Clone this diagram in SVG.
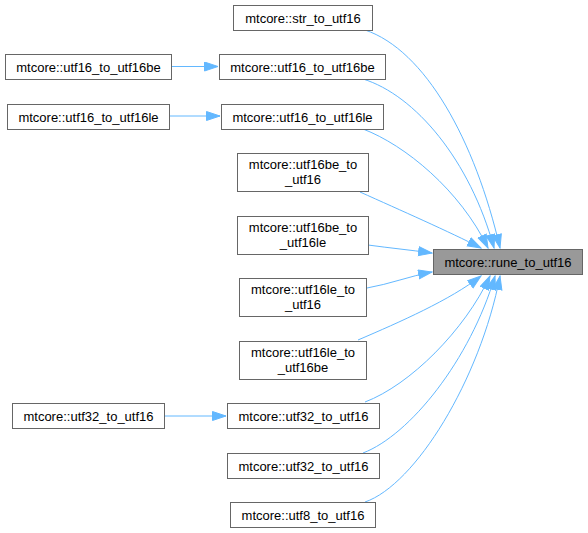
<svg xmlns="http://www.w3.org/2000/svg" width="588" height="533" viewBox="0 0 588 533">
<defs>
<style>
.n rect{fill:#ffffff;stroke:#666666;stroke-width:1}
.n.t rect{fill:#999999}
.n text{font-family:"Liberation Sans",Arial,sans-serif;font-size:13px;fill:#000000;text-anchor:middle}
.e path{fill:none;stroke:#63b8ff;stroke-width:1;marker-end:url(#ah)}
</style>
<marker id="ah" markerUnits="userSpaceOnUse" markerWidth="15" markerHeight="11" refX="14" refY="5" orient="auto" viewBox="0 0 15 11">
<path d="M0.5,0.5 L14,5 L0.5,9.5 z" fill="#63b8ff" stroke="#63b8ff" stroke-width="1"/>
</marker>
</defs>
<rect width="588" height="533" fill="#ffffff"/>
<g id="edges" class="e">
<path d="M365,30 C425,50 475,140 500,248"/>
<path d="M363,79 C415,95 470,160 494,248"/>
<path d="M363,129 C405,145 460,190 488,248"/>
<path d="M360,192 C400,210 450,232 481,248"/>
<path d="M368,245 C390,248 410,250 432,253"/>
<path d="M367,288 C390,284 410,276 432,272"/>
<path d="M358,340 C400,322 450,300 481,276"/>
<path d="M365,402 C410,385 465,330 490,276"/>
<path d="M363,453 C410,435 470,360 495,276"/>
<path d="M365,502 C415,485 480,380 500,276"/>
<path d="M172,66.5 L218,66.5"/>
<path d="M170,116 L220,116"/>
<path d="M165,416 L226,416"/>
</g>
<g id="rune_to_utf16" class="n t"><rect x="433.5" y="249.5" width="149" height="25"/><text x="508" y="266.5">mtcore::rune_to_utf16</text></g>
<g id="str_to_utf16" class="n"><rect x="233.5" y="5.5" width="139" height="25"/><text x="303" y="22.5">mtcore::str_to_utf16</text></g>
<g id="utf16_to_utf16be" class="n"><rect x="219.5" y="54.5" width="166" height="25"/><text x="302.5" y="71.5">mtcore::utf16_to_utf16be</text></g>
<g id="utf16_to_utf16le" class="n"><rect x="221.5" y="104.5" width="162" height="25"/><text x="302.5" y="121.5">mtcore::utf16_to_utf16le</text></g>
<g id="utf16be_to_utf16" class="n"><rect x="237.5" y="153.5" width="131" height="38"/><text x="303" y="169">mtcore::utf16be_to</text><text x="303" y="184">_utf16</text></g>
<g id="utf16be_to_utf16le" class="n"><rect x="237.5" y="216.5" width="131" height="38"/><text x="303" y="232">mtcore::utf16be_to</text><text x="303" y="247">_utf16le</text></g>
<g id="utf16le_to_utf16" class="n"><rect x="239.5" y="278.5" width="127" height="38"/><text x="303" y="294">mtcore::utf16le_to</text><text x="303" y="309">_utf16</text></g>
<g id="utf16le_to_utf16be" class="n"><rect x="239.5" y="341.5" width="127" height="38"/><text x="303" y="357">mtcore::utf16le_to</text><text x="303" y="372">_utf16be</text></g>
<g id="utf32_to_utf16_a" class="n"><rect x="227.5" y="403.5" width="152" height="25"/><text x="303.5" y="420.5">mtcore::utf32_to_utf16</text></g>
<g id="utf32_to_utf16_b" class="n"><rect x="227.5" y="453.5" width="152" height="25"/><text x="303.5" y="470.5">mtcore::utf32_to_utf16</text></g>
<g id="utf8_to_utf16" class="n"><rect x="230.5" y="502.5" width="145" height="25"/><text x="303" y="519.5">mtcore::utf8_to_utf16</text></g>
<g id="l_utf16_to_utf16be" class="n"><rect x="5.5" y="54.5" width="166" height="25"/><text x="88.5" y="71.5">mtcore::utf16_to_utf16be</text></g>
<g id="l_utf16_to_utf16le" class="n"><rect x="7.5" y="104.5" width="162" height="25"/><text x="88.5" y="121.5">mtcore::utf16_to_utf16le</text></g>
<g id="l_utf32_to_utf16" class="n"><rect x="12.5" y="403.5" width="152" height="25"/><text x="88.5" y="420.5">mtcore::utf32_to_utf16</text></g>
</svg>
